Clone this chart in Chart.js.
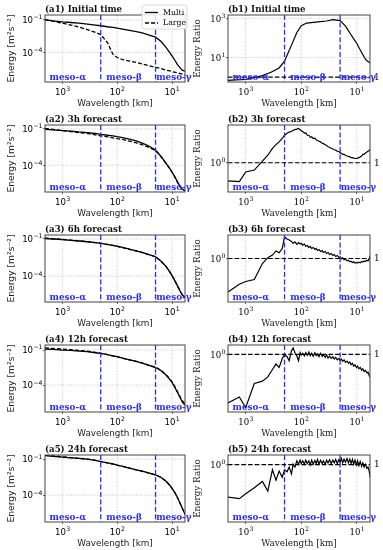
<!DOCTYPE html>
<html>
<head>
<meta charset="utf-8">
<script src="https://cdn.jsdelivr.net/npm/chart.js@4.4.0/dist/chart.umd.min.js"></script>
<style>
  body { margin: 0; background: #fff; width: 383px; height: 550px; position: relative; overflow: hidden; }
  .cell { position: absolute; }
</style>
</head>
<body>
<script>
// ── Wavelength grids [km] ─────────────────────────────
const wlCoarse = [2080, 1500, 1000, 700, 500, 350, 250, 200, 150, 120, 100, 80, 60, 45, 35, 27, 20, 16, 13, 11, 10, 9, 8, 7, 6.5, 6, 5.75];
const wlFine = [2080, 1300, 1000, 700, 500, 400, 330, 285, 250, 220,
  200, 180, 165, 150, 140, 130, 120, 112, 105, 100,
  94, 88, 83, 78, 73, 69, 65, 61, 57, 54,
  51, 48, 45, 42, 40, 37, 35, 33, 31, 29,
  27, 25.5, 24, 22.5, 21, 20, 19, 18, 17, 16,
  15, 14.2, 13.4, 12.7, 12, 11.4, 10.8, 10.2, 9.7, 9.2,
  8.7, 8.2, 7.8, 7.4, 7, 6.6, 6.3, 6, 5.75];

// ── Energy spectra [m2 s-2] (coarse grid) ─────────────
const a1Multi = [0.105, 0.081, 0.066, 0.0575, 0.050, 0.041, 0.033, 0.029, 0.0234, 0.0204, 0.0178, 0.0145, 0.011, 0.0083, 0.0063, 0.0042, 0.0026, 0.0011, 3.2e-4, 1.0e-4, 5.0e-5, 2.2e-5, 8.3e-6, 3.6e-6, 2.4e-6, 2.1e-6, 2.0e-6];
const a1Large = [0.1, 0.076, 0.05, 0.033, 0.022, 0.0126, 0.0072, 0.0045, 7.9e-4, 7.1e-5, 3.5e-5, 2.3e-5, 1.66e-5, 1.26e-5, 8.9e-6, 6.3e-6, 4.5e-6, 3.4e-6, 2.5e-6, 2.1e-6, 1.8e-6, 1.6e-6, 1.4e-6, 1.2e-6, 1.05e-6, 8.9e-7, 8.3e-7];
const a2Multi = [0.093, 0.083, 0.072, 0.065, 0.056, 0.050, 0.042, 0.036, 0.030, 0.027, 0.023, 0.0195, 0.0145, 0.0105, 0.0068, 0.0041, 0.0018, 5.6e-4, 1.6e-4, 5.6e-5, 2.8e-5, 1.26e-5, 4.5e-6, 1.6e-6, 1.07e-6, 8.9e-7, 8.3e-7];
const a2Large = [0.112, 0.093, 0.072, 0.060, 0.050, 0.042, 0.032, 0.027, 0.022, 0.018, 0.016, 0.0135, 0.0098, 0.0072, 0.0049, 0.0032, 0.0016, 5.2e-4, 1.5e-4, 5.2e-5, 2.6e-5, 1.17e-5, 4.2e-6, 1.5e-6, 1.02e-6, 8.5e-7, 7.9e-7];
const a3Multi = [0.107, 0.1, 0.089, 0.078, 0.069, 0.060, 0.050, 0.045, 0.037, 0.031, 0.026, 0.021, 0.0155, 0.0112, 0.0083, 0.0058, 0.0037, 0.0017, 6.5e-4, 2.2e-4, 1.12e-4, 4.8e-5, 1.74e-5, 5.4e-6, 3.2e-6, 2.2e-6, 2.0e-6];
const a3Large = [0.12, 0.107, 0.093, 0.081, 0.071, 0.062, 0.051, 0.046, 0.035, 0.030, 0.025, 0.020, 0.0148, 0.0107, 0.0081, 0.0056, 0.0037, 0.0017, 6.5e-4, 2.2e-4, 1.12e-4, 4.8e-5, 1.74e-5, 5.4e-6, 3.2e-6, 2.2e-6, 2.0e-6];
const a4Multi = [0.123, 0.115, 0.1, 0.093, 0.081, 0.072, 0.059, 0.051, 0.040, 0.032, 0.027, 0.020, 0.0148, 0.0107, 0.0078, 0.0051, 0.0032, 0.0018, 7.8e-4, 3.1e-4, 1.7e-4, 7.2e-5, 2.5e-5, 7.2e-6, 3.7e-6, 2.3e-6, 1.95e-6];
const a4Large = [0.151, 0.138, 0.12, 0.107, 0.093, 0.079, 0.063, 0.052, 0.040, 0.032, 0.027, 0.020, 0.0148, 0.0107, 0.0078, 0.0052, 0.0034, 0.0019, 8.3e-4, 3.4e-4, 1.9e-4, 8.3e-5, 3.0e-5, 8.9e-6, 4.7e-6, 3.0e-6, 2.5e-6];
const a5Multi = [0.195, 0.17, 0.148, 0.129, 0.115, 0.1, 0.078, 0.063, 0.049, 0.040, 0.032, 0.025, 0.018, 0.0129, 0.01, 0.0072, 0.0049, 0.0031, 0.0015, 6.8e-4, 3.7e-4, 1.8e-4, 6.8e-5, 1.8e-5, 8.1e-6, 3.7e-6, 2.5e-6];
const a5Large = [0.219, 0.186, 0.158, 0.135, 0.117, 0.1, 0.078, 0.063, 0.048, 0.039, 0.031, 0.025, 0.018, 0.0126, 0.0098, 0.0071, 0.0048, 0.0031, 0.0015, 6.8e-4, 3.7e-4, 1.8e-4, 6.8e-5, 1.8e-5, 8.1e-6, 3.7e-6, 2.5e-6];

// ── Energy ratio Multi / Large ────────────────────────
const b1Ratio = [0.69, 0.72, 0.77, 0.94, 1.19, 1.77, 2.95, 6.5, 43, 190, 420, 575, 620, 675, 730, 850, 760, 400, 158, 77, 52, 29, 16, 8.2, 6.7, 5.8, 5.3];
const b2Ratio = [0.813, 0.807, 0.90, 0.92, 1.02, 1.09, 1.18, 1.23, 1.27, 1.32,
  1.37, 1.40, 1.42, 1.43, 1.45, 1.46, 1.47, 1.48, 1.46, 1.44,
  1.43, 1.40, 1.41, 1.37, 1.37, 1.34, 1.345, 1.32, 1.325, 1.30,
  1.29, 1.28, 1.27, 1.25, 1.245, 1.23, 1.22, 1.20, 1.195, 1.18,
  1.17, 1.16, 1.155, 1.14, 1.135, 1.12, 1.115, 1.10, 1.10, 1.09,
  1.08, 1.075, 1.07, 1.06, 1.06, 1.055, 1.05, 1.05, 1.055, 1.06,
  1.07, 1.08, 1.10, 1.10, 1.12, 1.13, 1.14, 1.15, 1.17];
const b3Ratio = [0.68, 0.744, 0.768, 0.785, 0.944, 1.01, 1.04, 1.09, 1.067, 1.12,
  1.28, 1.25, 1.235, 1.216, 1.19, 1.21, 1.175, 1.20, 1.18, 1.19,
  1.166, 1.18, 1.15, 1.16, 1.135, 1.148, 1.122, 1.135, 1.109, 1.122,
  1.096, 1.109, 1.084, 1.096, 1.071, 1.084, 1.059, 1.071, 1.047, 1.059,
  1.035, 1.047, 1.023, 1.035, 1.012, 1.019, 0.996, 1.008, 0.985, 0.992,
  0.973, 0.981, 0.962, 0.97, 0.955, 0.962, 0.948, 0.955, 0.948, 0.959,
  0.951, 0.966, 0.959, 0.973, 0.966, 0.981, 0.973, 0.992, 1.035];
const b4Ratio = [0.573, 0.614, 0.543, 0.716, 0.736, 0.773, 0.841, 0.895, 0.861, 0.951,
  0.998, 0.973, 0.93, 1.043, 1.076, 1.019, 0.981, 0.93, 1.019, 0.992,
  1.012, 0.981, 1.019, 0.989, 1.027, 0.985, 1.012, 0.977, 1.019, 0.985,
  1.004, 0.973, 1.012, 0.977, 0.996, 0.966, 0.992, 0.959, 0.981, 0.955,
  0.973, 0.948, 0.966, 0.94, 0.955, 0.933, 0.948, 0.923, 0.937, 0.912,
  0.926, 0.902, 0.916, 0.888, 0.902, 0.874, 0.888, 0.861, 0.874, 0.848,
  0.861, 0.835, 0.848, 0.822, 0.832, 0.81, 0.816, 0.785, 0.767];
const b5Ratio = [0.695, 0.684, 0.722, 0.773, 0.829, 0.744, 0.944, 0.841, 0.93, 0.868,
  0.944, 0.923, 0.973, 0.902, 1.004, 0.973, 1.043, 1.004, 1.051, 1.012,
  1.043, 1.004, 1.051, 1.012, 1.043, 0.996, 1.051, 1.004, 1.047, 1.012,
  1.059, 1.004, 1.051, 1.012, 1.043, 1.004, 1.051, 1.019, 1.055, 1.012,
  1.051, 1.019, 1.059, 1.012, 1.059, 1.027, 1.071, 1.019, 1.063, 1.027,
  1.071, 1.019, 1.063, 1.012, 1.059, 1.004, 1.051, 0.996, 1.043, 0.989,
  1.035, 0.981, 1.019, 0.973, 1.004, 0.959, 0.973, 0.93, 0.868];

// ── Ticks, boundaries, labels ─────────────────────────
const xTicks = [1000, 100, 10];
const energyTicks = [1e-1, 1e-4];
const ratioTicksB1 = [1e1, 1e3];
const ratioTicks = [1e0];
const scaleBounds = [200, 20];                 // meso-α | meso-β | meso-γ  [km]
const scaleNames = ['meso-α', 'meso-β', 'meso-γ'];
const scaleNameAt = [1720, 158, 19.5];         // left edge of each name [km]
const titles = ['(a1) Initial time', '(b1) Initial time', '(a2) 3h forecast', '(b2) 3h forecast',
  '(a3) 6h forecast', '(b3) 6h forecast', '(a4) 12h forecast', '(b4) 12h forecast',
  '(a5) 24h forecast', '(b5) 24h forecast'];

const SANS = 'DejaVu Sans', SERIF = 'DejaVu Serif';
const BLUE = '#2a2aff';

const panels = [
  { col: 0, row: 0, x: wlCoarse, multi: a1Multi, large: a1Large, yMin: 2e-7,  yMax: 0.28, legend: true },
  { col: 1, row: 0, x: wlCoarse, ratio: b1Ratio, yMin: 0.565, yMax: 1480, ticks: ratioTicksB1 },
  { col: 0, row: 1, x: wlCoarse, multi: a2Multi, large: a2Large, yMin: 6.3e-7, yMax: 0.21 },
  { col: 1, row: 1, x: wlFine, ratio: b2Ratio, yMin: 0.716, yMax: 1.54, ticks: ratioTicks },
  { col: 0, row: 2, x: wlCoarse, multi: a3Multi, large: a3Large, yMin: 8.3e-7, yMax: 0.21 },
  { col: 1, row: 2, x: wlFine, ratio: b3Ratio, yMin: 0.607, yMax: 1.309, ticks: ratioTicks },
  { col: 0, row: 3, x: wlCoarse, multi: a4Multi, large: a4Large, yMin: 5.1e-7, yMax: 0.27 },
  { col: 1, row: 3, x: wlFine, ratio: b4Ratio, yMin: 0.517, yMax: 1.113, ticks: ratioTicks },
  { col: 0, row: 4, x: wlCoarse, multi: a5Multi, large: a5Large, yMin: 5.9e-7, yMax: 0.22 },
  { col: 1, row: 4, x: wlFine, ratio: b5Ratio, yMin: 0.527, yMax: 1.113, ticks: ratioTicks },
];

const pts = (xs, ys) => ys.map((v, i) => ({ x: xs[i], y: v }));

function seg(ctx, x0, y0, x1, y1) { ctx.beginPath(); ctx.moveTo(x0, y0); ctx.lineTo(x1, y1); ctx.stroke(); }

// 10^e label, mathtext style: base + raised smaller exponent
function powText(ctx, v, fam, px, py, align) {
  const e = String(Math.round(Math.log10(v))).replace('-', '−');
  ctx.font = '8.6px "' + fam + '"';
  const wb = ctx.measureText('10').width;
  ctx.font = '6.2px "' + fam + '"';
  const we = ctx.measureText(e).width;
  const x0 = align === 'right' ? px - wb - we - 0.3 : px - (wb + we) / 2;
  ctx.textAlign = 'left'; ctx.textBaseline = 'alphabetic';
  ctx.font = '8.6px "' + fam + '"';
  ctx.fillText('10', x0, py);
  ctx.font = '6.2px "' + fam + '"';
  ctx.fillText(e, x0 + wb + 0.3, py - 3.8);
}

// ── Decorations drawn through the chart scales ────────
const decor = {
  id: 'decor',
  beforeDatasetsDraw(chart, args, o) {
    const { ctx, chartArea: a, scales: { x, y } } = chart;
    ctx.save();
    ctx.strokeStyle = '#b8b8b8'; ctx.lineWidth = 0.8; ctx.setLineDash([1, 1.6]);
    x.ticks.forEach(t => { const px = x.getPixelForValue(t.value); seg(ctx, px, a.top, px, a.bottom); });
    y.ticks.forEach(t => { const py = y.getPixelForValue(t.value); seg(ctx, a.left, py, a.right, py); });
    ctx.restore();
  },
  afterDatasetsDraw(chart, args, o) {
    const { ctx, chartArea: a, scales: { x, y } } = chart;
    ctx.save();
    // meso scale boundaries
    ctx.strokeStyle = BLUE; ctx.lineWidth = 1.3; ctx.setLineDash([5, 2.4]);
    scaleBounds.forEach(w => { const px = x.getPixelForValue(w); seg(ctx, px, a.top, px, a.bottom); });
    // ratio = 1 reference
    if (o.ratio) {
      const py = y.getPixelForValue(1);
      ctx.strokeStyle = '#000'; ctx.lineWidth = 1.1; ctx.setLineDash([4.5, 2.2]);
      seg(ctx, a.left, py, a.right, py);
      ctx.fillStyle = '#000'; ctx.font = '9px "' + SERIF + '"';
      ctx.textAlign = 'left'; ctx.textBaseline = 'middle';
      ctx.fillText('1', a.right + 4, py + 0.5);
    }
    ctx.setLineDash([]);
    // scale names
    ctx.fillStyle = BLUE; ctx.font = 'bold 8.9px "' + SERIF + '"';
    ctx.textAlign = 'left'; ctx.textBaseline = 'middle';
    scaleNames.forEach((s, i) => ctx.fillText(s, x.getPixelForValue(scaleNameAt[i]), a.bottom - 4.5));
    // frame
    ctx.strokeStyle = '#444'; ctx.lineWidth = 1;
    ctx.strokeRect(a.left, a.top, a.right - a.left, a.bottom - a.top);
    // tick labels
    ctx.fillStyle = '#000';
    x.ticks.forEach(t => powText(ctx, t.value, o.fam, x.getPixelForValue(t.value), a.bottom + 12.5, 'center'));
    y.ticks.forEach(t => powText(ctx, t.value, o.fam, a.left - 2.5, y.getPixelForValue(t.value) + 3.2, 'right'));
    // title
    ctx.fillStyle = '#111'; ctx.font = 'bold 8.6px "' + SERIF + '"';
    ctx.textAlign = 'left'; ctx.textBaseline = 'alphabetic';
    ctx.fillText(o.title, a.left, a.top - 3);
    // legend
    if (o.legend) {
      const lx = a.left + 97, ly = 5, lw = 45, lh = 24;
      ctx.fillStyle = 'rgba(255,255,255,0.85)'; ctx.strokeStyle = '#cfcfcf'; ctx.lineWidth = 0.8;
      ctx.beginPath(); ctx.roundRect(lx, ly, lw, lh, 2); ctx.fill(); ctx.stroke();
      ctx.strokeStyle = '#000'; ctx.lineWidth = 1.3;
      seg(ctx, lx + 3, ly + 7.5, lx + 16, ly + 7.5);
      ctx.setLineDash([4, 2]);
      seg(ctx, lx + 3, ly + 18, lx + 16, ly + 18);
      ctx.setLineDash([]);
      ctx.fillStyle = '#000'; ctx.font = '7.8px "' + SERIF + '"'; ctx.textBaseline = 'middle';
      ctx.fillText('Multi', lx + 21, ly + 7.5);
      ctx.fillText('Large', lx + 21, ly + 18);
    }
    ctx.restore();
  }
};

panels.forEach((p, i) => {
  const isA = p.col === 0;
  const W = isA ? 200 : 193, H = 110;
  const div = document.createElement('div');
  div.className = 'cell';
  div.style.left = (isA ? 0 : 190) + 'px';
  div.style.top = (p.row * 110) + 'px';
  div.style.width = W + 'px'; div.style.height = H + 'px';
  const cv = document.createElement('canvas');
  cv.width = W; cv.height = H;
  div.appendChild(cv);
  document.body.appendChild(div);

  const fam = isA ? SANS : SERIF;
  const datasets = isA ? [
    { data: pts(p.x, p.multi), borderColor: '#000', borderWidth: 1.3, pointRadius: 0 },
    { data: pts(p.x, p.large), borderColor: '#000', borderWidth: 1.3, borderDash: [4, 2], pointRadius: 0 },
  ] : [
    { data: pts(p.x, p.ratio), borderColor: '#000', borderWidth: 1.2, pointRadius: 0 },
  ];
  const yTicks = isA ? energyTicks : p.ticks;

  new Chart(cv, {
    type: 'line',
    data: { datasets },
    plugins: [decor],
    options: {
      responsive: false, animation: false, devicePixelRatio: 1,
      layout: { padding: { left: 0, top: 15, right: isA ? 15 : 13, bottom: 0 } },
      plugins: {
        legend: { display: false }, tooltip: { enabled: false },
        decor: { title: titles[i], ratio: !isA, legend: !!p.legend, fam },
      },
      scales: {
        x: {
          type: 'logarithmic', reverse: true, min: 5.8, max: 2080, bounds: 'data',
          afterBuildTicks: s => { s.ticks = xTicks.map(v => ({ value: v })); },
          afterFit: s => { s.height = 28; },
          ticks: { display: false },
          grid: { drawOnChartArea: false, tickLength: 2, tickColor: '#444', tickWidth: 0.8 },
          border: { display: false },
          title: { display: true, text: 'Wavelength [km]', color: '#222', font: { family: fam, size: 8.8 }, padding: { top: 0, bottom: 1 } },
        },
        y: {
          type: 'logarithmic', min: p.yMin, max: p.yMax, bounds: 'data',
          afterBuildTicks: s => { s.ticks = yTicks.map(v => ({ value: v })); },
          afterFit: s => { s.width = isA ? 45 : 38; },
          ticks: { display: false },
          grid: { drawOnChartArea: false, tickLength: 2, tickColor: '#444', tickWidth: 0.8 },
          border: { display: false },
          title: { display: true, text: isA ? 'Energy [m²s⁻²]' : 'Energy Ratio', color: '#222', font: { family: fam, size: isA ? 9.2 : 8.8 }, padding: { top: isA ? 6 : 2, bottom: 0 } },
        },
      },
    },
  });
});
</script>
</body>
</html>
